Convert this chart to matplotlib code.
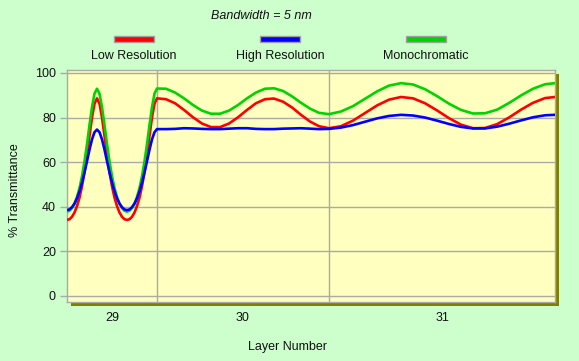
import matplotlib
matplotlib.use("Agg")
import matplotlib.pyplot as plt
from matplotlib.patches import Rectangle
import numpy as np

plt.rcParams['font.family'] = ['Liberation Sans', 'DejaVu Sans']

# --- данные ---
layer_bounds = [0, 90, 262, 488]
layer_labels = ['29', '30', '31']
yticks = [0, 20, 40, 60, 80, 100]

thick_l29 = [0, 2.5, 5, 7.5, 10, 12.5, 15, 17.5, 20, 22.5, 25, 27.5, 30,
             32.5, 35, 37.5, 40, 42.5, 45, 47.5, 50, 52.5, 55, 57.5, 60,
             62.5, 65, 67.5, 70, 72.5, 75, 77.5, 80, 82.5, 85, 87.5, 90]
thick_l30 = [99, 108, 117, 126, 135, 144, 153, 162, 171, 180, 189, 198,
             207, 216, 225, 234, 243, 252, 262]
thick_l31 = [274, 286, 298, 310, 322, 334, 346, 358, 370, 382, 394, 406,
             418, 430, 442, 454, 466, 478, 488]

low_l29 = [34.1, 34.4, 35.5, 37.4, 40.3, 44.1, 49.2, 55.6, 63.3, 71.8, 80.0, 86.2, 88.6,
           86.2, 80.0, 71.8, 63.3, 55.6, 49.2, 44.1, 40.3, 37.4, 35.5, 34.4, 34.1,
           34.4, 35.5, 37.4, 40.3, 44.1, 49.2, 55.6, 63.3, 71.8, 80.0, 86.2, 88.6]
low_l30 = [88.2, 86.4, 83.4, 80.1, 77.3, 75.7, 75.7, 77.3, 80.1, 83.4, 86.4, 88.2,
           88.5, 87.1, 84.5, 81.2, 78.2, 76.1, 75.2]
low_l31 = [76.1, 78.6, 82.0, 85.4, 88.0, 89.2, 88.6, 86.4, 83.2, 79.7, 76.8, 75.2,
           75.3, 77.0, 80.0, 83.5, 86.6, 88.7, 89.2]

high_l29 = [38.5, 38.8, 39.8, 41.4, 43.8, 46.9, 50.8, 55.4, 60.4, 65.6, 70.2, 73.4, 74.6,
            73.4, 70.2, 65.6, 60.4, 55.4, 50.8, 46.9, 43.8, 41.4, 39.8, 38.8, 38.5,
            38.8, 39.8, 41.4, 43.8, 46.9, 50.8, 55.4, 60.4, 65.6, 70.2, 73.4, 74.8]
high_l30 = [74.8, 74.9, 75.2, 75.1, 74.9, 74.8, 74.8, 75.0, 75.2, 75.2, 74.9, 74.8,
            74.8, 75.0, 75.1, 75.2, 75.0, 74.8, 74.9]
high_l31 = [75.5, 76.6, 78.1, 79.6, 80.7, 81.2, 80.9, 80.0, 78.6, 77.1, 75.8, 75.1,
            75.1, 75.9, 77.2, 78.7, 80.1, 81.0, 81.2]

mono_l29 = [37.8, 38.2, 39.4, 41.4, 44.4, 48.4, 53.7, 60.3, 68.1, 76.6, 84.6, 90.7, 92.9,
            90.7, 84.6, 76.6, 68.1, 60.3, 53.7, 48.4, 44.4, 41.4, 39.4, 38.2, 37.8,
            38.2, 39.4, 41.4, 44.4, 48.4, 53.7, 60.3, 68.1, 76.6, 84.6, 90.7, 93.0]
mono_l30 = [92.9, 91.2, 88.6, 85.6, 83.1, 81.7, 81.7, 83.1, 85.6, 88.6, 91.2, 92.9,
            93.1, 91.9, 89.5, 86.6, 84.0, 82.1, 81.5]
mono_l31 = [82.7, 85.1, 88.4, 91.7, 94.3, 95.4, 94.8, 92.7, 89.6, 86.2, 83.4, 81.8,
            81.9, 83.5, 86.5, 89.9, 92.9, 94.9, 95.4]

thickness = np.concatenate([thick_l29, thick_l30, thick_l31])
series = [
    ('Low Resolution', np.concatenate([low_l29, low_l30, low_l31]), '#ff0000'),
    ('High Resolution', np.concatenate([high_l29, high_l30, high_l31]), '#0000ff'),
    ('Monochromatic', np.concatenate([mono_l29, mono_l30, mono_l31]), '#00d400'),
]

W, H = 579, 361
FS = 9
fig = plt.figure(figsize=(W / 100, H / 100), dpi=100, facecolor='#ccffcc')


def fx(px):
    return px / W


def fy(py):
    return 1 - py / H


# область построения и её тень
left, right, top, bottom = 67, 555, 70, 302
fig.patches.append(Rectangle((fx(left + 4), fy(bottom + 4)), fx(right - left), (bottom - top) / H,
                             transform=fig.transFigure, facecolor='#808000',
                             edgecolor='none', zorder=-5))
ax = fig.add_axes([fx(left), fy(bottom), fx(right - left), (bottom - top) / H])
ax.set_zorder(1)
ax.set_facecolor('#ffffc0')

grid_c = '#aaaaaa'
for b in layer_bounds[1:-1]:
    ax.axvline(b, color=grid_c, lw=1, zorder=1)
for t in yticks:
    ax.axhline(t, color=grid_c, lw=1, zorder=1)

for name, vals, col in [series[0], series[2], series[1]]:
    ax.plot(thickness, vals, color=col, lw=1.9, zorder=3, solid_capstyle='butt')

ax.set_xlim(layer_bounds[0], layer_bounds[-1])
ax.set_ylim(-2.7, 101.3)

centers = [(layer_bounds[i] + layer_bounds[i + 1]) / 2 for i in range(len(layer_labels))]
ax.set_xticks(centers)
ax.set_xticklabels(layer_labels)
ax.set_yticks(yticks)
ax.tick_params(axis='x', length=0, pad=7.5, labelsize=FS, colors='#111111')
ax.tick_params(axis='y', length=5, width=1, color=grid_c, pad=3, labelsize=FS,
               labelcolor='#111111')
for s in ax.spines.values():
    s.set_color(grid_c)
    s.set_linewidth(1)

# подписи
fig.text(fx(261), fy(16), 'Bandwidth = 5 nm', ha='center', va='center',
         fontsize=FS, style='italic', color='#111111')
fig.text(fx(288), fy(347), 'Layer Number', ha='center', va='center',
         fontsize=FS, color='#111111')
fig.text(fx(15), fy(190), '% Transmittance', ha='center', va='center',
         rotation=90, fontsize=FS, color='#111111')

# легенда
legend_x = [134, 280, 426]
for cx, (name, vals, col) in zip(legend_x, series):
    fig.patches.append(Rectangle((fx(cx - 20), fy(42)), fx(40), 6 / H,
                                 transform=fig.transFigure, facecolor=col,
                                 edgecolor='#a0a0a0', lw=1, zorder=2))
    fig.text(fx(cx), fy(56), name, ha='center', va='center', fontsize=FS,
             color='#111111')

fig.savefig('out.png', dpi=100, facecolor=fig.get_facecolor())
